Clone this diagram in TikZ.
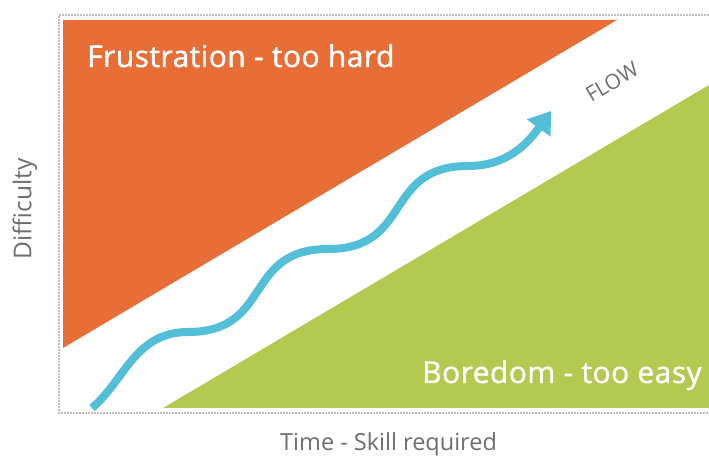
\documentclass[tikz,border=0pt]{standalone}
\usepackage{fontspec}
\setmainfont{Open Sans}
\newfontfamily\zonefont{Open Sans}[FakeBold=1.2,LetterSpace=1.5]
\usetikzlibrary{arrows.meta}
\definecolor{frustr}{RGB}{232,110,56}
\definecolor{bored}{RGB}{179,201,80}
\definecolor{flowc}{RGB}{82,190,215}
\definecolor{labelc}{RGB}{110,110,110}
\definecolor{framec}{RGB}{190,190,190}
\tikzset{
  zonetext/.style={text=white, inner sep=0pt, font=\zonefont\fontsize{30}{33}\selectfont},
  axistext/.style={text=labelc, inner sep=0pt, font=\fontsize{23.5}{26}\selectfont},
  flowtext/.style={text=labelc, inner sep=0pt, font=\fontsize{21}{23}\selectfont, rotate=30.6},
  framebox/.style={draw=framec, line width=1.6pt, dash pattern=on 1.6pt off 1.4pt},
  wave/.style={draw=flowc, line width=8pt, -{Triangle[length=21pt,width=28pt]}}
}
\begin{document}
\begin{tikzpicture}[x=1pt,y=1pt]
\useasboundingbox (0,0) rectangle (709,455);
% zones
\fill[frustr] (63,435) -- (617,435) -- (63,107) -- cycle;
\fill[bored] (163,47) -- (709,370) -- (709,47) -- cycle;
% frame
\draw[framebox] (709,440) -- (59,440) -- (59,42) -- (709,42);
% labels
\node[zonetext, anchor=base west] (frus) at (87,388) {Frustration - too hard};
\node[zonetext, anchor=base west] (bore) at (422,72) {Boredom - too easy};
\node[flowtext] (flow) at (612,373) {FLOW};
\node[axistext, font=\fontsize{24.5}{27}\selectfont, rotate=90] (diff) at (25,246) {Difficulty};
\node[axistext, anchor=base west] (time) at (280,5) {Time - Skill required};
% wave
\coordinate (w0) at (92,47);
\coordinate (w1) at (188,123);
\coordinate (w2) at (328,206);
\coordinate (w3) at (468,289);
\coordinate (tip) at (551,344);
\draw[wave] (w0) .. controls (125,75) and (135,123) .. (w1)
  .. controls (273,123) and (243,206) .. (w2)
  .. controls (413,206) and (383,289) .. (w3)
  .. controls (510,289) and (530,315) .. (tip);
\end{tikzpicture}
\end{document}
